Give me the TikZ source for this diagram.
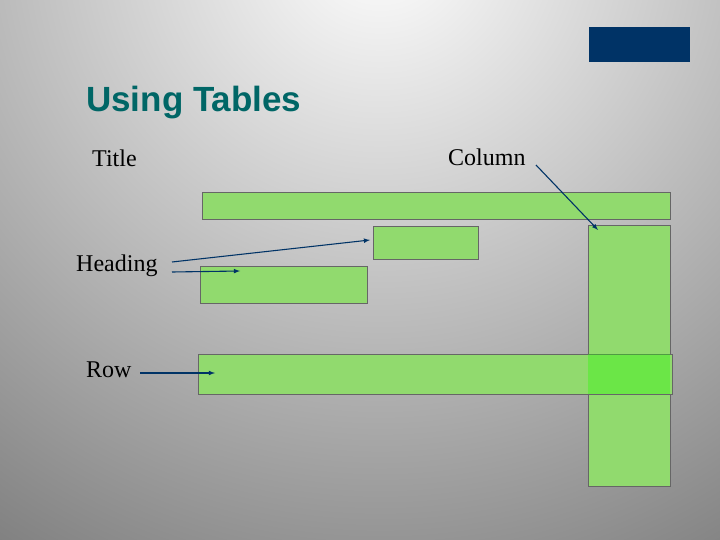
\documentclass[tikz,border=0pt]{standalone}
\usepackage{fontspec}
\setsansfont{Liberation Sans}
\setmainfont{Liberation Serif}
\usetikzlibrary{positioning}
\definecolor{navy}{RGB}{0,51,102}
\definecolor{teal}{RGB}{0,102,102}
\definecolor{cellgreen}{RGB}{145,218,110}
\begin{document}
\begin{tikzpicture}[x=1pt,y=-1pt,
    cell/.style={draw=black!60, fill=cellgreen, inner sep=0pt, anchor=north west},
    lbl/.style={font=\fontsize{24}{28}\selectfont, inner sep=0pt},
    pointer/.style={navy, line width=1.1pt, -latex}]

    % background
    \useasboundingbox (0,0) rectangle (720,540);
    \begin{scope}
        \clip (0,0) rectangle (720,540);
        \fill[black!50] (0,0) rectangle (720,540);
        \shade[inner color=white, outer color=black!50] (380,-60) circle (720);
    \end{scope}
    \fill[navy] (589,27) rectangle (690,62);

    \node[font=\sffamily\bfseries\fontsize{35}{40}\selectfont, text=teal, anchor=west, inner sep=0pt] (head) at (86,103) {Using Tables};

    % table parts
    \node[cell, minimum width=468, minimum height=27] (titlebar) at (202,192) {};
    \node[cell, minimum width=82, minimum height=261] (col) at (588,225) {};
    \node[cell, minimum width=105, minimum height=33] (hd1) at (373,226) {};
    \node[cell, minimum width=167, minimum height=37] (hd2) at (200,266) {};
    \node[cell, minimum width=474, minimum height=40] (row) at (198,354) {};
    \fill[green!80!lime, opacity=0.35] (588,354) rectangle (670,394);

    % labels
    \node[lbl, anchor=west] (ltitle) at (92,158) {Title};
    \node[lbl, anchor=west] (lcol) at (448,157) {Column};
    \node[lbl, anchor=west] (lhead) at (76,266) {Heading};
    \node[lbl, anchor=west] (lrow) at (86,370) {Row};

    % pointers
    \coordinate (tcol) at (598,230);
    \coordinate (thd1) at (370,240);
    \coordinate (thd2) at (240,271);
    \coordinate (trow) at (215,373);
    \draw[pointer] (536,165) -- (tcol);
    \draw[pointer] (172,262) -- (thd1);
    \draw[pointer] (172,272) -- (thd2);
    \draw[pointer] (140,373) -- (trow);
\end{tikzpicture}
\end{document}
